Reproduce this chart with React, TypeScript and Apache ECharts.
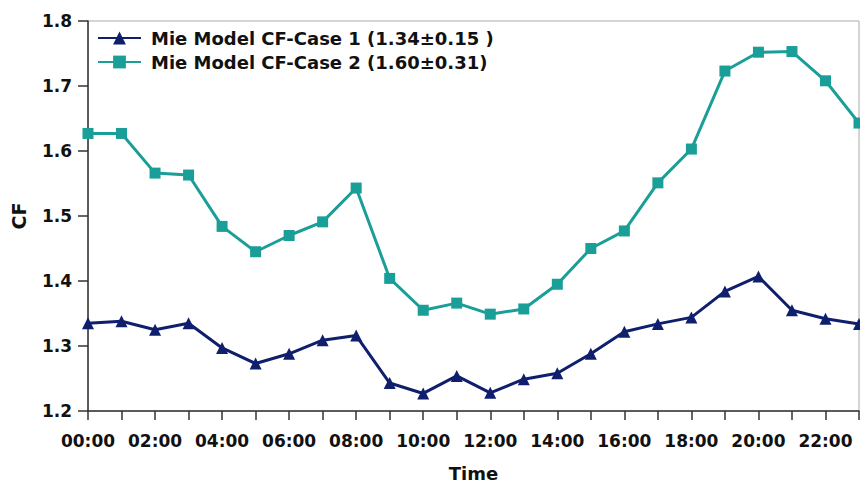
import React, { useEffect, useRef } from "react";
import * as echarts from "echarts";

const hours = ["00:00","01:00","02:00","03:00","04:00","05:00","06:00","07:00","08:00","09:00","10:00","11:00","12:00","13:00","14:00","15:00","16:00","17:00","18:00","19:00","20:00","21:00","22:00","23:00"];
const case1 = [1.335,1.338,1.325,1.335,1.297,1.273,1.288,1.309,1.316,1.243,1.227,1.254,1.228,1.249,1.258,1.288,1.322,1.334,1.344,1.384,1.407,1.355,1.342,1.334];
const case2 = [1.627,1.627,1.566,1.563,1.484,1.445,1.470,1.491,1.543,1.404,1.355,1.366,1.349,1.357,1.395,1.450,1.477,1.551,1.603,1.723,1.752,1.753,1.708,1.643];
const seriesNames = ["Mie Model CF-Case 1 (1.34±0.15 )", "Mie Model CF-Case 2 (1.60±0.31)"];
const navy = "#0f1f6e";
const teal = "#1a9e98";
const font = "'DejaVu Sans', sans-serif";

export default function App() {
  const ref = useRef<HTMLDivElement>(null);
  useEffect(() => {
    const chart = echarts.init(ref.current!, null, { renderer: "svg" });
    chart.setOption({
      animation: false,
      backgroundColor: "#fff",
      grid: { left: 88, right: 1, top: 21, bottom: 73, outerBoundsMode: "none", containLabel: false, show: true, borderColor: "#aaa", borderWidth: 1 },
      legend: {
        left: 92, top: 24, orient: "vertical", itemGap: 6, itemWidth: 43, itemHeight: 16,
        textStyle: { fontFamily: font, fontWeight: "bold", fontSize: 18, color: "#111", padding: [0, 0, 0, 5] },
        data: seriesNames,
      },
      xAxis: {
        type: "category", data: hours, boundaryGap: false,
        name: "Time", nameLocation: "middle", nameGap: 53,
        nameTextStyle: { fontFamily: font, fontWeight: "bold", fontSize: 18, color: "#111" },
        axisLine: { lineStyle: { color: "#333", width: 1.5 } },
        axisTick: { interval: 0, length: 9, lineStyle: { color: "#333", width: 1.5 } },
        axisLabel: { interval: 1, margin: 21, fontFamily: font, fontWeight: "bold", fontSize: 17, color: "#111" },
        splitLine: { show: false },
      },
      yAxis: {
        type: "value", min: 1.2, max: 1.8, interval: 0.1,
        name: "CF", nameLocation: "middle", nameGap: 60,
        nameTextStyle: { fontFamily: font, fontWeight: "bold", fontSize: 19, color: "#111" },
        axisLine: { show: true, lineStyle: { color: "#333", width: 1.5 } },
        axisTick: { show: true, length: 10, lineStyle: { color: "#333", width: 1.5 } },
        axisLabel: { margin: 16, fontFamily: font, fontWeight: "bold", fontSize: 17, color: "#111", formatter: (v: number) => v.toFixed(1) },
        splitLine: { show: false },
      },
      series: [
        {
          name: seriesNames[0], type: "line", data: case1, symbol: "triangle", symbolSize: 12,
          lineStyle: { color: navy, width: 3 }, itemStyle: { color: navy },
        },
        {
          name: seriesNames[1], type: "line", data: case2, symbol: "rect", symbolSize: 11,
          lineStyle: { color: teal, width: 3 }, itemStyle: { color: teal },
        },
      ],
    });
    return () => chart.dispose();
  }, []);
  return <div ref={ref} style={{ width: 860, height: 484, position: "absolute", left: 0, top: 0 }} />;
}
